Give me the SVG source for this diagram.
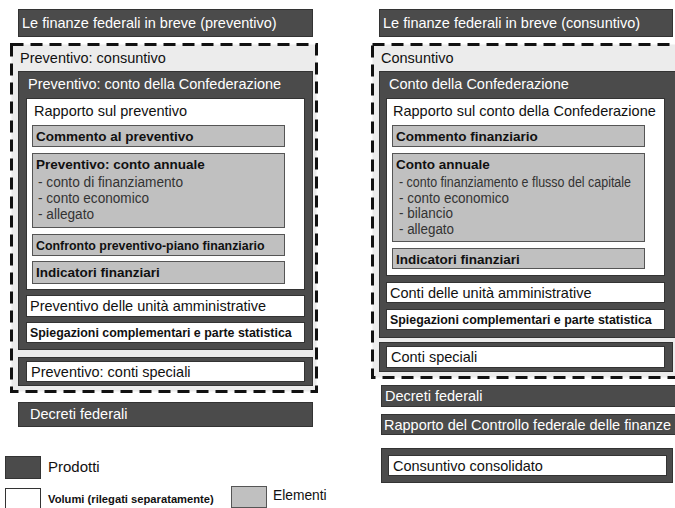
<svg xmlns="http://www.w3.org/2000/svg" width="675" height="508" viewBox="0 0 675 508">
<style>
text{font-family:"Liberation Sans",Arial,sans-serif;fill:#111}
.dk{fill:#4b4b4b;stroke:#333;stroke-width:1}
.wh{fill:#fff;stroke:#333;stroke-width:1}
.gr{fill:#c0c0c0;stroke:#555;stroke-width:1}
.dash{fill:#ececec;stroke:#111;stroke-width:3;stroke-dasharray:12 7}
.tw{fill:#fff;font-size:14.5px}
.t13{font-size:14.5px}
.b12{font-size:13.5px;font-weight:bold}
.b11{font-size:12.4px;font-weight:bold}
.r12{font-size:13.8px;fill:#333}
</style>
<rect width="675" height="508" fill="#fff"/>

<!-- LEFT -->
<g id="bar-preventivo"><rect class="dk" x="18.5" y="9.5" width="294" height="27"/><text class="tw" x="22" y="28">Le finanze federali in breve (preventivo)</text></g>
<g id="preventivo-consuntivo"><rect class="dash" x="11.5" y="44.5" width="305" height="347"/><text class="t13" x="20" y="63">Preventivo: consuntivo</text></g>
<g id="conto-confederazione-p"><rect class="dk" x="18.5" y="71.5" width="294" height="278"/><text class="tw" x="28" y="89">Preventivo: conto della Confederazione</text></g>
<g id="rapporto-preventivo"><rect class="wh" x="26.5" y="98.5" width="278" height="191"/><text class="t13" x="34" y="116">Rapporto sul preventivo</text></g>
<g id="commento-preventivo"><rect class="gr" x="32.5" y="125.5" width="252" height="21"/><text class="b12" x="36" y="141">Commento al preventivo</text></g>
<g id="conto-annuale-p"><rect class="gr" x="32.5" y="153.5" width="252" height="74"/><text class="b12" x="36" y="169">Preventivo: conto annuale</text><text class="r12" x="38" y="187" textLength="145" lengthAdjust="spacingAndGlyphs">- conto di finanziamento</text><text class="r12" x="38" y="203" textLength="111" lengthAdjust="spacingAndGlyphs">- conto economico</text><text class="r12" x="38" y="219" textLength="56" lengthAdjust="spacingAndGlyphs">- allegato</text></g>
<g id="confronto"><rect class="gr" x="32.5" y="234.5" width="252" height="21"/><text class="b11" x="36" y="250">Confronto preventivo-piano finanziario</text></g>
<g id="indicatori-p"><rect class="gr" x="32.5" y="261.5" width="252" height="22"/><text class="b12" x="36" y="277">Indicatori finanziari</text></g>
<g id="unita-p"><rect class="wh" x="26.5" y="295.5" width="278" height="21"/><text class="t13" x="30" y="311">Preventivo delle unità amministrative</text></g>
<g id="spiegazioni-p"><rect class="wh" x="26.5" y="322.5" width="278" height="20"/><text class="b11" x="30" y="337">Spiegazioni complementari e parte statistica</text></g>
<g id="conti-speciali-p"><rect class="dk" x="18.5" y="357.5" width="294" height="28"/><rect class="wh" x="26.5" y="361.5" width="278" height="20"/><text class="t13" x="31" y="377">Preventivo: conti speciali</text></g>
<g id="decreti-p"><rect class="dk" x="18.5" y="402.5" width="294" height="24"/><text class="tw" x="30" y="419">Decreti federali</text></g>

<!-- RIGHT -->
<g id="bar-consuntivo"><rect class="dk" x="379.5" y="9.5" width="293" height="27"/><text class="tw" x="383" y="28">Le finanze federali in breve (consuntivo)</text></g>
<g id="consuntivo"><rect class="dash" x="372.5" y="44.5" width="310" height="333"/><text class="t13" x="381" y="63">Consuntivo</text></g>
<g id="conto-confederazione-c"><rect class="dk" x="379.5" y="71.5" width="300" height="266"/><text class="tw" x="389" y="89">Conto della Confederazione</text></g>
<g id="rapporto-conto"><rect class="wh" x="386.5" y="98.5" width="278" height="177"/><text class="t13" x="393" y="116">Rapporto sul conto della Confederazione</text></g>
<g id="commento-finanziario"><rect class="gr" x="392.5" y="125.5" width="252" height="21"/><text class="b12" x="396" y="141">Commento finanziario</text></g>
<g id="conto-annuale-c"><rect class="gr" x="392.5" y="153.5" width="252" height="88"/><text class="b12" x="396" y="169">Conto annuale</text><text class="r12" x="399" y="187" textLength="232" lengthAdjust="spacingAndGlyphs">- conto finanziamento e flusso del capitale</text><text class="r12" x="399" y="203" textLength="110" lengthAdjust="spacingAndGlyphs">- conto economico</text><text class="r12" x="399" y="218" textLength="54" lengthAdjust="spacingAndGlyphs">- bilancio</text><text class="r12" x="399" y="234" textLength="55" lengthAdjust="spacingAndGlyphs">- allegato</text></g>
<g id="indicatori-c"><rect class="gr" x="392.5" y="248.5" width="252" height="20"/><text class="b12" x="396" y="264">Indicatori finanziari</text></g>
<g id="unita-c"><rect class="wh" x="386.5" y="282.5" width="278" height="20"/><text class="t13" x="390" y="298">Conti delle unità amministrative</text></g>
<g id="spiegazioni-c"><rect class="wh" x="386.5" y="309.5" width="278" height="20"/><text class="b11" x="390" y="324">Spiegazioni complementari e parte statistica</text></g>
<g id="conti-speciali-c"><rect class="dk" x="379.5" y="342.5" width="293" height="29"/><rect class="wh" x="386.5" y="346.5" width="278" height="21"/><text class="t13" x="391" y="362">Conti speciali</text></g>
<g id="decreti-c"><rect class="dk" x="381.5" y="385.5" width="300" height="21"/><text class="tw" x="385" y="401">Decreti federali</text></g>
<g id="controllo"><rect class="dk" x="381.5" y="414.5" width="300" height="20"/><text class="tw" x="384" y="430">Rapporto del Controllo federale delle finanze</text></g>
<g id="consolidato"><rect class="dk" x="381.5" y="448.5" width="291" height="34"/><rect class="wh" x="388.5" y="455.5" width="278" height="20"/><text class="t13" x="393" y="471">Consuntivo consolidato</text></g>

<!-- LEGEND -->
<g id="legend-prodotti"><rect class="dk" x="5.5" y="456.5" width="35" height="22"/><text style="font-size:15px" x="48" y="472">Prodotti</text></g>
<g id="legend-volumi"><rect class="wh" x="5.5" y="488.5" width="35" height="21"/><text style="font-size:11.2px;font-weight:bold" x="48" y="503">Volumi (rilegati separatamente)</text></g>
<g id="legend-elementi"><rect class="gr" x="231.5" y="486.5" width="35" height="21"/><text style="font-size:13.8px" x="273" y="500">Elementi</text></g>
<g id="connectors"></g>
</svg>
